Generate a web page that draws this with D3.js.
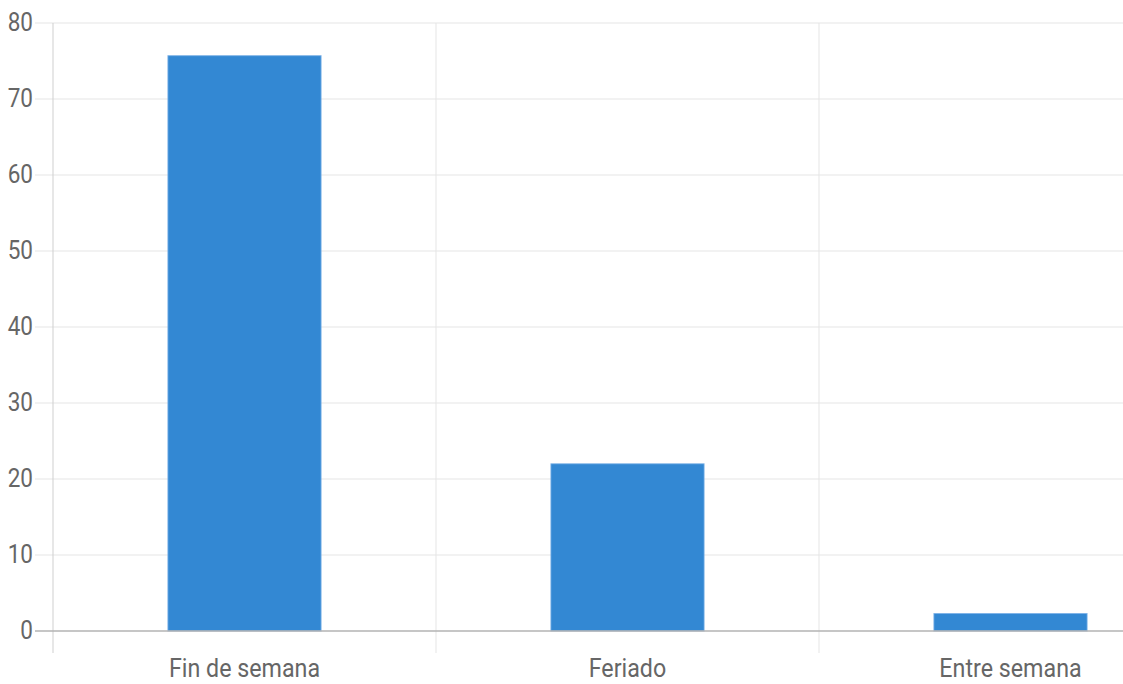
<!DOCTYPE html>
<html>
<head>
<meta charset="utf-8">
<script src="https://cdn.jsdelivr.net/npm/d3@7"></script>
<style>
  html, body { margin: 0; padding: 0; background: #fff; overflow: hidden; }
  svg { display: block; }
  text { font-family: Roboto, "Noto Sans", sans-serif; fill: #666; }
</style>
</head>
<body>
<svg id="chart" width="1123" height="684"></svg>
<script>
const categories = ["Fin de semana", "Feriado", "Entre semana"];
const values = [75.7, 22, 2.3];
const yTicks = [0, 10, 20, 30, 40, 50, 60, 70, 80];

(function () {
const W = 1123, H = 684;
const mLeft = 53, mRight = 1202, mTop = 23, mBottom = 631;
const svg = d3.select("#chart");

const x = d3.scaleBand().domain(categories).range([mLeft, mRight]);
const y = d3.scaleLinear().domain([0, 80]).range([mBottom, mTop]);

// horizontal grid lines (with ticks extending left)
svg.append("g").selectAll("line").data(yTicks.filter(d => d !== 0)).join("line")
  .attr("x1", 35).attr("x2", W)
  .attr("y1", d => y(d)).attr("y2", d => y(d))
  .attr("stroke", "#e5e5e5").attr("stroke-width", 1);

// vertical grid lines at band boundaries
const bounds = categories.map(c => x(c)).concat([mRight]);
svg.append("g").selectAll("line").data(bounds).join("line")
  .attr("x1", d => d).attr("x2", d => d)
  .attr("y1", mTop).attr("y2", mBottom + 22)
  .attr("stroke", (d, i) => i === 0 ? "#cfcfcf" : "#e5e5e5").attr("stroke-width", 1);

// bars
const bw = x.bandwidth() * 0.4;
svg.append("g").selectAll("rect").data(values).join("rect")
  .attr("x", (d, i) => x(categories[i]) + (x.bandwidth() - bw) / 2)
  .attr("y", d => y(d))
  .attr("width", bw)
  .attr("height", d => y(0) - y(d))
  .attr("fill", "#3388d3")
  .attr("stroke", "rgba(120,175,230,0.8)")
  .attr("stroke-width", 1);

// zero line
svg.append("line")
  .attr("x1", 35).attr("x2", W)
  .attr("y1", y(0)).attr("y2", y(0))
  .attr("stroke", "#b3b3b3").attr("stroke-width", 1.5);

// y tick labels
svg.append("g").selectAll("text").data(yTicks).join("text")
  .attr("x", 33).attr("y", d => y(d) - 1)
  .attr("text-anchor", "end")
  .attr("dy", "0.355em")
  .style("font-size", "25px")
  .text(d => d)
  .each(function() {
    const w = this.getComputedTextLength();
    d3.select(this).attr("textLength", w * 0.9).attr("lengthAdjust", "spacingAndGlyphs");
  });

// x tick labels
svg.append("g").selectAll("text").data(categories).join("text")
  .attr("x", d => x(d) + x.bandwidth() / 2)
  .attr("y", 677)
  .attr("text-anchor", "middle")
  .style("font-size", "25px")
  .text(d => d)
  .each(function() {
    const w = this.getComputedTextLength();
    d3.select(this).attr("textLength", w * 0.93).attr("lengthAdjust", "spacingAndGlyphs");
  });
})();
</script>
</body>
</html>
